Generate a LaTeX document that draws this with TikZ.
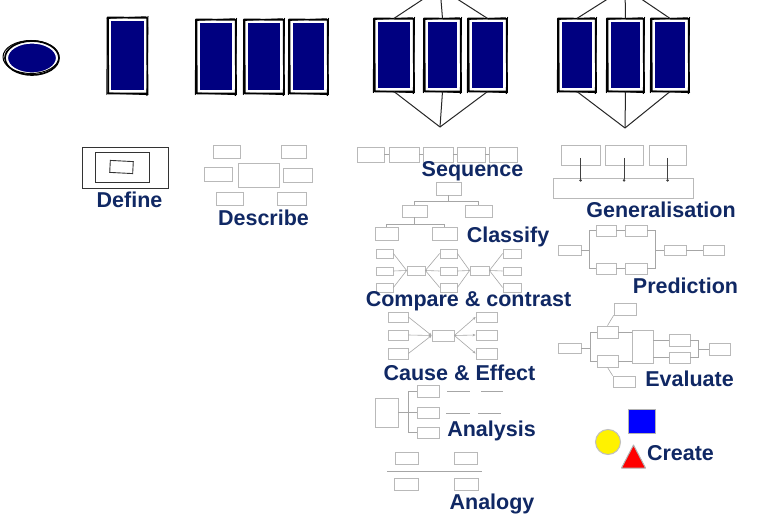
\documentclass[tikz,border=0pt]{standalone}
\usepackage{fontspec}
\setmainfont{Liberation Sans}
\usetikzlibrary{shapes.geometric,arrows.meta,calc}
\definecolor{navyfill}{RGB}{0,0,128}
\definecolor{txtblue}{RGB}{16,40,100}
\newcommand\gb[5]{\node[gbox,minimum width=#4pt,minimum height=#5pt] (#1) at (#2,#3) {};}
\newcommand\frameit[1]{%
  \draw[sketch] ([shift={(-2,-2)}]#1.north west) -- ([shift={(2,-1.5)}]#1.north east) -- ([shift={(2.4,2)}]#1.south east) -- ([shift={(-1.6,2)}]#1.south west) -- cycle;
  \draw[sketch,line width=1pt] ([shift={(-3,-1)}]#1.north west) -- ([shift={(1,-2.6)}]#1.north east)
     ([shift={(2.9,-3)}]#1.north east) -- ([shift={(1.8,4)}]#1.south east)
     ([shift={(-2.7,-2)}]#1.north west) -- ([shift={(-3,3)}]#1.south west)
     ([shift={(-3,1.4)}]#1.south west) -- ([shift={(3,3)}]#1.south east);}
\newcommand\nr[5]{\node[navy,minimum width=#4pt,minimum height=#5pt] (#1) at (#2,#3) {};\frameit{#1}}
\begin{document}
\begin{tikzpicture}[x=1pt,y=-1pt,
  navy/.style={fill=navyfill,draw=white,line width=1.2pt,inner sep=0,rectangle},
  sketch/.style={draw=black,line width=1.7pt,line cap=round,line join=round},
  gbox/.style={draw=gray!55,line width=0.75pt,inner sep=0,rectangle},
  gline/.style={draw=gray!70,line width=0.6pt},
  dbox/.style={draw=black!80,line width=0.9pt,inner sep=0,rectangle},
  lbl/.style={font=\fontsize{21.5}{21.5}\selectfont\bfseries,text=txtblue,anchor=base,inner sep=0},
  wire/.style={draw=black!85,line width=1pt}]
\useasboundingbox[fill=white] (0,0) rectangle (779,518);
\clip (0,0) rectangle (779,518);

% ---------- top row ----------
\coordinate (t3) at (440,-12);
\coordinate (b3) at (440,127);
\coordinate (t4) at (625,-12);
\coordinate (b4) at (625,128);

\node[ellipse,fill=navyfill,draw=white,line width=1.2pt,minimum width=49pt,minimum height=30pt,inner sep=0] (ov) at (32,58) {};
\draw[sketch] (ov.center) ellipse [x radius=27pt, y radius=17pt];
\draw[sketch,line width=1pt] ($(ov.center)+(-1,-1)$) ellipse [x radius=28pt, y radius=16.5pt];

\nr{r1}{127.5}{55.5}{34}{71}
\nr{r2a}{216}{56.5}{34}{69}
\nr{r2b}{264}{56.5}{34}{69}
\nr{r2c}{308.5}{56.5}{33}{69}
\nr{r3a}{394}{55}{34}{68}
\nr{r3b}{442.5}{55}{31}{68}
\nr{r3c}{487.5}{55}{33}{68}
\nr{r4a}{577}{55}{32}{68}
\nr{r4b}{625.5}{55}{31}{68}
\nr{r4c}{670}{55}{32}{68}

\foreach \n in {r3a,r3b,r3c}{\draw[wire] (t3) -- ([yshift=2pt]\n.north); \draw[wire] (b3) -- ([yshift=-2pt]\n.south);}
\foreach \n in {r4a,r4b,r4c}{\draw[wire] (t4) -- ([yshift=2pt]\n.north); \draw[wire] (b4) -- ([yshift=-2pt]\n.south);}

% ---------- Define ----------
\node[dbox,minimum width=86pt,minimum height=41pt] (df1) at (125,167.5) {};
\node[dbox,minimum width=54pt,minimum height=30pt] (df2) at (122,167) {};
\node[dbox,minimum width=23pt,minimum height=12pt,rotate=-3] (df3) at (121.5,167) {};
\node[lbl] (lDefine) at (129.5,208) {Define};

% ---------- Describe ----------
\gb{d1}{226.5}{151.5}{27}{13}
\gb{d2}{293.5}{151.5}{25}{13}
\gb{d3}{218}{174}{28}{14}
\gb{d4}{258.5}{175}{41}{24}
\gb{d5}{297.5}{175}{29}{14}
\gb{d6}{229.5}{198.5}{27}{13}
\gb{d7}{291.5}{198.5}{29}{13}
\node[lbl] (lDescribe) at (263.5,226) {Describe};

% ---------- Sequence ----------
\gb{s1}{370.5}{154.5}{27}{15}
\gb{s2}{404}{154.5}{30}{15}
\gb{s3}{438}{154.5}{30}{15}
\gb{s4}{471}{154.5}{28}{15}
\gb{s5}{503}{154.5}{28}{15}
\draw[gline] (s1) -- (s2);
\draw[gline] (s2) -- (s3);
\draw[gline] (s3) -- (s4);
\draw[gline] (s4) -- (s5);
\node[lbl] (lSequence) at (472.5,177) {Sequence};

% ---------- Classify ----------
\gb{c1}{448.5}{188.5}{25}{13}
\gb{c2}{414.5}{211}{25}{12}
\gb{c3}{478.5}{211}{27}{12}
\gb{c4}{386.5}{233.5}{23}{13}
\gb{c5}{444.5}{233.5}{25}{13}
\draw[gline] (c1.south) -- ++(0,6) -| (c2.north);
\draw[gline] (c1.south) -- ++(0,6) -| (c3.north);
\draw[gline] (c2.south) -- ++(0,7) -| (c4.north);
\draw[gline] (c2.south) -- ++(0,7) -| (c5.north);
\node[lbl] (lClassify) at (508,243) {Classify};

% ---------- Compare & contrast ----------
\gb{l1}{384.5}{253.5}{17}{9}
\gb{l2}{384.5}{271}{17}{8}
\gb{l3}{384.5}{287.5}{17}{9}
\gb{h1}{416}{270.5}{18}{9}
\gb{m1}{448.5}{253.5}{17}{9}
\gb{m2}{448.5}{271}{17}{8}
\gb{m3}{448.5}{287.5}{17}{9}
\gb{h2}{479.5}{270.5}{19}{9}
\gb{q1}{512}{253.5}{18}{9}
\gb{q2}{512}{271}{18}{8}
\gb{q3}{512}{287.5}{18}{9}
\foreach \a in {l1,l2,l3}{\draw[gline] (\a.east) -- (h1.west);}
\foreach \a in {m1,m2,m3}{\draw[gline] (h1.east) -- (\a.west); \draw[gline] (\a.east) -- (h2.west);}
\foreach \a in {q1,q2,q3}{\draw[gline] (h2.east) -- (\a.west);}
\node[lbl] (lCompare) at (468.5,307) {Compare \& contrast};

% ---------- Cause & Effect ----------
\gb{e1}{398}{317}{20}{10}
\gb{e2}{398}{335}{20}{10}
\gb{e3}{398}{353.5}{20}{11}
\gb{eh}{443}{335.5}{22}{11}
\gb{f1}{486.5}{317}{21}{10}
\gb{f2}{486.5}{335}{21}{10}
\gb{f3}{486.5}{353.5}{21}{11}
\foreach \a in {e1,e2,e3}{\draw[gline,-{Stealth[length=3pt,width=2.5pt]}] (\a.east) -- (eh.west);}
\foreach \a in {f1,f2,f3}{\draw[gline,-{Stealth[length=3pt,width=2.5pt]}] (eh.east) -- (\a.west);}
\node[lbl] (lCause) at (459.5,381) {Cause \& Effect};

% ---------- Analysis ----------
\gb{a0}{386.5}{412.5}{23}{29}
\gb{a1}{428}{391}{22}{12}
\gb{a2}{428}{412.5}{22}{11}
\gb{a3}{428}{432.5}{22}{11}
\coordinate (aj) at (408,412.5);
\draw[gline] (a0.east) -- (aj);
\draw[gline] (aj) |- (a1.west);
\draw[gline] (aj) |- (a3.west);
\draw[gline] (aj) -- (a2.west);
\draw[gline] (447,391) -- (470,391) (481,391) -- (503,391);
\draw[gline] (446,413) -- (470,413) (478,413) -- (501,413);
\node[lbl] (lAnalysis) at (491.5,436) {Analysis};

% ---------- Analogy ----------
\gb{n1}{406.5}{458}{23}{12}
\gb{n2}{465.5}{458}{23}{12}
\gb{n3}{406}{484}{24}{12}
\gb{n4}{466}{484}{24}{12}
\draw[gline] (387,471) -- (482,471);
\node[lbl] (lAnalogy) at (492,509) {Analogy};

% ---------- Generalisation ----------
\gb{g1}{580.5}{155}{39}{20}
\gb{g2}{624}{155}{38}{20}
\gb{g3}{667.5}{155}{37}{20}
\gb{gb}{623}{188}{140}{20}
\foreach \a in {g1,g2,g3}{\draw[draw=black!75,line width=0.6pt,-{Circle[length=2.5pt]}] ([yshift=-3pt]\a.center) -- ($(\a.center |- gb.north)+(0,4)$);}
\node[lbl] (lGeneral) at (661,218) {Generalisation};

% ---------- Prediction ----------
\gb{p0}{569.5}{250}{23}{10}
\gb{pa}{606}{230.5}{20}{11}
\gb{pb}{636}{230.5}{22}{11}
\gb{pc}{606}{268.5}{20}{11}
\gb{pd}{636}{268.5}{22}{11}
\gb{pe}{675}{250}{22}{10}
\gb{pf}{713.5}{250}{21}{10}
\coordinate (pj1) at (589,250);
\coordinate (pj2) at (655,250);
\draw[gline] (p0.east) -- (pj1);
\draw[gline] (pj1) |- (pa.west);
\draw[gline] (pj1) |- (pc.west);
\draw[gline] (pa.east) -- (pb.west);
\draw[gline] (pc.east) -- (pd.west);
\draw[gline] (pb.east) -| (pj2);
\draw[gline] (pd.east) -| (pj2);
\draw[gline] (pj2) -- (pe.west);
\draw[gline] (pe.east) -- (pf.west);
\node[lbl] (lPrediction) at (685.5,294) {Prediction};

% ---------- Evaluate ----------
\gb{v0}{569.5}{348}{23}{10}
\gb{vu}{607.5}{332}{21}{12}
\gb{vl}{607.5}{361}{21}{12}
\gb{vt}{625}{309}{22}{12}
\gb{vb}{624}{381.5}{22}{11}
\gb{vbig}{642.5}{346.5}{21}{33}
\gb{vr1}{679.5}{340}{21}{12}
\gb{vr2}{679.5}{357.5}{21}{11}
\gb{vend}{719.5}{349}{21}{12}
\coordinate (vj1) at (590,348);
\coordinate (vj2) at (698,349);
\draw[gline] (v0.east) -- (vj1);
\draw[gline] (vj1) |- (vu.west);
\draw[gline] (vj1) |- (vl.west);
\draw[gline] (vu.east) -- (vu.east -| vbig.west);
\draw[gline] (vl.east) -- (vl.east -| vbig.west);
\draw[gline] (vu.north) -- (vt.south west);
\draw[gline] (vl.south) -- (vb.north west);
\draw[gline] (vr1.west -| vbig.east) -- (vr1.west);
\draw[gline] (vr2.west -| vbig.east) -- (vr2.west);
\draw[gline] (vr1.east) -| (vj2);
\draw[gline] (vr2.east) -| (vj2);
\draw[gline] (vj2) -- (vend.west);
\node[lbl] (lEvaluate) at (689.5,387) {Evaluate};

% ---------- Create ----------
\node[fill=blue,draw=gray!60,line width=1pt,minimum width=27pt,minimum height=24pt,inner sep=0] (csq) at (642,421) {};
\node[circle,fill=yellow,draw=gray!50,line width=1pt,minimum size=25pt,inner sep=0] (ccirc) at (608,442) {};
\filldraw[fill=red,draw=gray!60,line width=1pt,line join=round] (633.5,445) -- (645.5,468) -- (621.5,468) -- cycle;
\node[lbl] (lCreate) at (680.5,460) {Create};
\end{tikzpicture}
\end{document}
